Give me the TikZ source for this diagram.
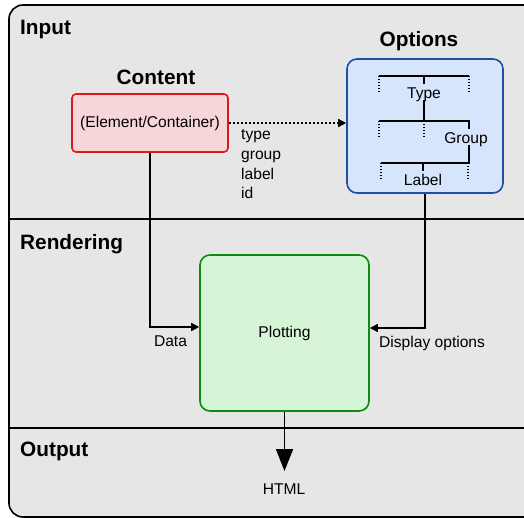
\documentclass[tikz,border=0pt]{standalone}
\usepackage{fontspec}
\setmainfont{Liberation Sans}
\usetikzlibrary{arrows.meta}
\definecolor{framefill}{HTML}{E6E6E6}
\definecolor{contentfill}{HTML}{F7D6D9}
\definecolor{contentdraw}{HTML}{E0161E}
\definecolor{optfill}{HTML}{D6E5FC}
\definecolor{optdraw}{HTML}{1F4FA0}
\definecolor{plotfill}{HTML}{D6F5D6}
\definecolor{plotdraw}{HTML}{0E8A0E}
\begin{document}
\begin{tikzpicture}[x=1pt,y=-1pt,
  txt/.style={inner sep=0pt, text height=14pt, text depth=1.5pt, font=\fontsize{15.6}{18}\selectfont},
  ttl/.style={inner sep=0pt, text height=17pt, text depth=3pt, font=\fontsize{20.8}{24}\selectfont\bfseries},
  contentbox/.style={draw=contentdraw, fill=contentfill, line width=1.6pt, rounded corners=4pt, inner sep=0pt, font=\fontsize{15.6}{18}\selectfont},
  optbox/.style={draw=optdraw, fill=optfill, line width=1.6pt, rounded corners=10pt, inner sep=0pt},
  plotbox/.style={draw=plotdraw, fill=plotfill, line width=1.6pt, rounded corners=10pt, inner sep=0pt, font=\fontsize{15.6}{18}\selectfont},
  conn/.style={line width=1.5pt, -{Triangle[length=8pt,width=8pt]}},
  dotconn/.style={line width=1.5pt, dash pattern=on 2pt off 2pt, -{Triangle[length=8pt,width=8pt]}},
  bigconn/.style={line width=1.8pt, -{Triangle[length=22pt,width=17pt]}},
  treeline/.style={line width=1.3pt},
  treedot/.style={line width=1.3pt, dash pattern=on 1.5pt off 1.5pt},
  divider/.style={line width=1.6pt}
]
\useasboundingbox (0,0) rectangle (524,518);
\fill[white] (0,0) rectangle (524,518);
\begin{scope}
\clip (0,0) rectangle (524,518);
\draw[line width=1.6pt, fill=framefill, rounded corners=14pt] (9,5) rectangle (540,517);
\draw[divider] (9,219) -- (540,219);
\draw[divider] (9,428) -- (540,428);
\end{scope}

% section titles
\node[ttl, anchor=west] (tinput) at (20,28) {Input};
\node[ttl, anchor=west] (trender) at (20,243) {Rendering};
\node[ttl, anchor=west] (toutput) at (20,449) {Output};

% boxes
\node[ttl] (tcontent) at (156,78) {Content};
\node[contentbox, minimum width=156pt, minimum height=58pt] (content) at (150,123) {(Element/Container)};
\node[ttl] (toptions) at (419,40) {Options};
\node[optbox, minimum width=156pt, minimum height=134pt] (options) at (425,126) {};
\node[plotbox, minimum width=169pt, minimum height=156pt] (plot) at (284.5,333) {Plotting};

% tree inside options
\node[txt] (ttype) at (424,92) {Type};
\node[txt] (tgroup) at (466,137) {Group};
\node[txt] (tlabel) at (423,179) {Label};
\draw[treeline] (379,76) -- (469,76);
\draw[treeline] (424,76) -- (424,84);
\draw[treeline] (424,100) -- (424,121);
\draw[treedot] (379,76) -- (379,94);
\draw[treedot] (469,76) -- (469,94);
\draw[treeline] (379,121) -- (469,121) -- (469,129);
\draw[treedot] (379,121) -- (379,137);
\draw[treedot] (424,121) -- (424,137);
\draw[treeline] (469,145) -- (469,163) -- (381,163);
\draw[treeline] (423,163) -- (423,171);
\draw[treedot] (381,163) -- (381,180);
\draw[treedot] (468,163) -- (468,180);

% connectors
\draw[dotconn] (content.east) -- (content.east -| options.west);
\node[txt, anchor=west] (ltype) at (241,133) {type};
\node[txt, anchor=west] (lgroup) at (241,153) {group};
\node[txt, anchor=west] (llabel) at (241,173) {label};
\node[txt, anchor=west] (lid) at (241,192) {id};

\draw[conn] (content.south) |- ([yshift=6pt]plot.west);
\node[txt] (ldata) at (170.5,340) {Data};
\draw[conn] (options.south) |- ([yshift=5pt]plot.east);
\node[txt, anchor=west] (ldisp) at (379,341) {Display options};

\coordinate (htmlend) at (284.5,471);
\draw[bigconn] (plot.south) -- (htmlend);
\node[txt] (lhtml) at (284,488) {HTML};
\end{tikzpicture}
\end{document}
